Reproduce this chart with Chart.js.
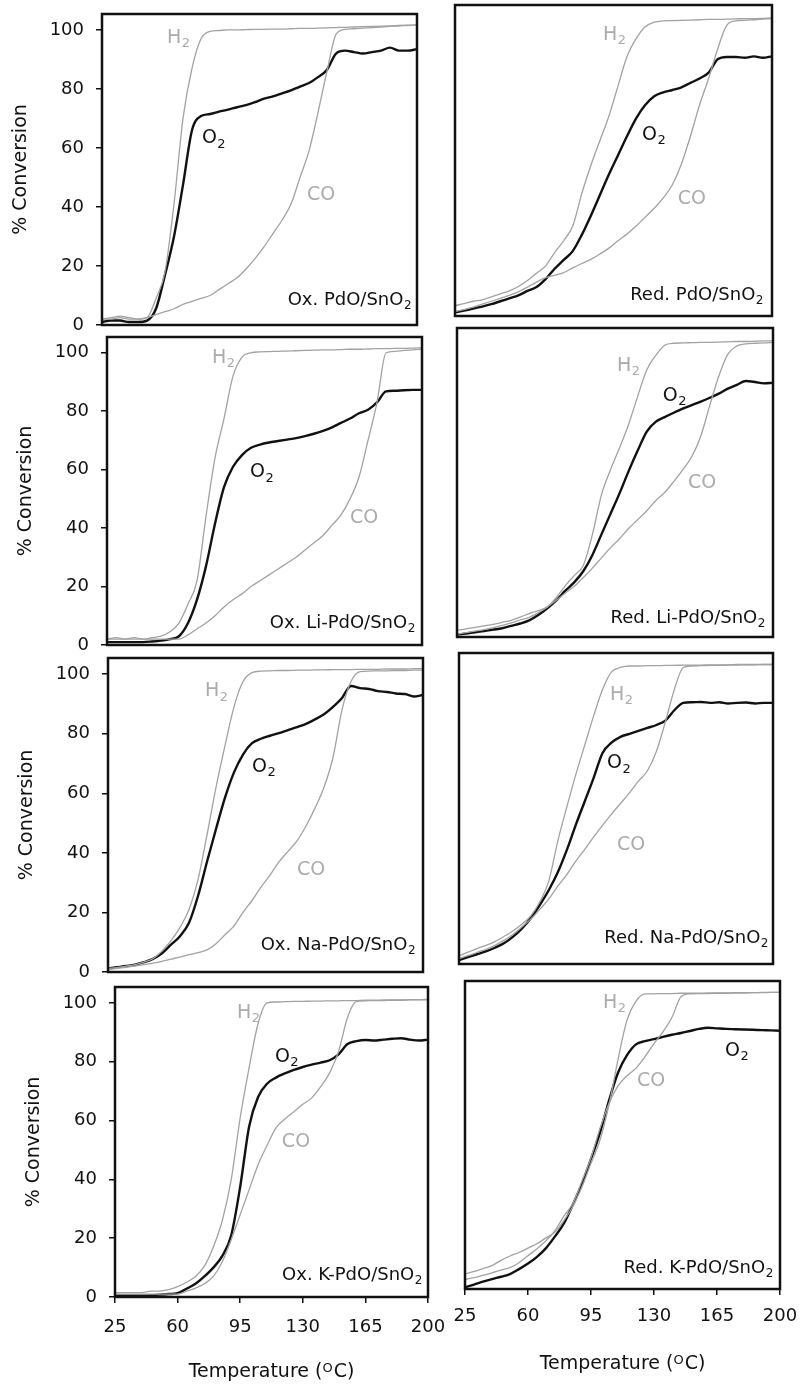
<!DOCTYPE html>
<html><head><meta charset="utf-8">
<script src="https://cdn.jsdelivr.net/npm/chart.js@4.4.1/dist/chart.umd.min.js"></script>
<style>
html,body{margin:0;padding:0;background:#fff;}
#page{position:relative;width:803px;height:1387px;overflow:hidden;background:#fff;}
.pc{position:absolute;}
</style></head><body><div id="page"></div>
<script>
// ---------- data ----------
const temps = [25,30,35,40,45,50,55,60,65,70,75,80,85,90,95,100,105,110,115,120,125,130,135,140,145,150,155,160,165,170,175,180,185,190,195,200];
const tempTicks = [25,60,95,130,165,200];
const convTicks = [0,20,40,60,80,100];

// Ox. PdO/SnO2
const oxPdH2 = [2,2.5,3,2.5,2,2.5,9,18,41,70,87,97,99.5,99.8,100,100,100.1,100.2,100.2,100.3,100.3,100.4,100.5,100.5,100.6,100.7,100.8,100.9,101,101.1,101.2,101.3,101.4,101.5,101.6,101.7];
const oxPdO2 = [1,1.5,1.5,1,1,1.5,5.5,17,30,47.5,66,70.8,71.5,72.3,73,73.8,74.5,75.5,76.7,77.5,78.5,79.5,80.8,82,84,86.5,92,93,92.5,92,92.5,93,94,93,93,93.5];
const oxPdCO = [2,2,2.5,2,2,2.5,3.5,4.5,5.5,7,8,9,10,12,14,16,19,22.5,26.5,31,35.5,41,50,59,72,86,98.5,100.2,100.4,100.6,100.8,101,101.2,101.4,101.5,101.7];
// Red. PdO/SnO2
const redPdH2 = [3.5,4.2,5,5.5,6.5,7.5,8.5,10,12,14.5,17,21.5,25.5,30.5,41.5,51,59.5,67.8,78,88,94,98,99.6,100,100.1,100.2,100.3,100.4,100.5,100.5,100.6,100.7,100.8,100.8,100.9,101];
const redPdO2 = [1.2,1.8,2.5,3.2,4,5,6,7,8.5,9.8,12.5,16,19,22,27.5,34,41,48,54.5,61,67,71.5,74.5,75.8,76.6,77.5,79,80.5,82.5,87,87.8,87.8,87.5,88,87.5,88];
const redPdCO = [1.5,2.2,3,4,5,6,7,8.2,9.8,11.5,13,13.8,14.7,16.3,17.8,19.2,21,23,25.5,27.8,30.5,33.5,36.5,40,44.5,51.5,61,71.5,80.5,90.5,98.5,100,100.2,100.4,100.6,100.8];
// Ox. Li-PdO/SnO2
const oxLiH2 = [2,2.5,2,2.5,2,2.5,3,4.5,7.5,14,22,44,64,77.5,92,98.5,100,100.3,100.4,100.5,100.6,100.7,100.8,100.9,101,101,101.1,101.2,101.2,101.3,101.4,101.4,101.5,101.5,101.6,101.7];
const oxLiO2 = [1,1,1,1,1,1.2,1.5,2,3,7.5,15.5,27,41.5,54,61,65,67.5,68.6,69.3,69.8,70.3,70.8,71.5,72.3,73.3,74.5,76,77.5,79.3,80.5,83,86.8,87,87.2,87.3,87.3];
const oxLiCO = [2,2,2,2,2,2,2,2,2,3.5,5.5,7.5,10,13,15.5,17.5,20,22,24,26,28,30,32.5,35,37.5,41,44.5,50,57.5,70,83,100,100.5,100.8,101,101.3];
// Red. Li-PdO/SnO2
const redLiH2 = [2.2,2.8,3.3,3.8,4.3,5,5.7,6.8,8,9,10.3,13.5,17.5,21,24.5,35,48.5,57,64.5,72.5,82,91,96,99.5,100.2,100.3,100.4,100.5,100.5,100.6,100.7,100.8,100.8,100.9,101,101];
const redLiO2 = [0.8,1.2,1.6,2,2.5,3,3.8,4.6,5.7,7.5,9.8,12.5,15.8,18.7,22.5,28,35,42,49,56.5,63.5,70,73.4,75,76.5,77.9,79.1,80.3,81.6,83,84.7,86,87.3,87,86.5,86.7];
const redLiCO = [1,1.5,2,2.5,3.2,4,4.8,5.8,6.7,8.3,10.2,12.5,15,17.3,20.3,23.5,27,30.5,33.5,37,40,43,46.5,49.3,53,57,61.5,68.5,79,89,96.5,99.3,100,100.2,100.3,100.5];
// Ox. Na-PdO/SnO2
const oxNaH2 = [1.2,1.5,2,2.5,3.3,4.5,7,10.5,15,21,31,46,62,76,89,97.5,100.5,101,101.1,101.2,101.2,101.3,101.3,101.4,101.4,101.5,101.5,101.5,101.6,101.6,101.6,101.7,101.7,101.7,101.8,101.8];
const oxNaO2 = [1.2,1.6,2,2.5,3.3,4.4,6.3,9.2,12,16.5,25.5,37,48,58.5,67,73,76.8,78.3,79.3,80.2,81.2,82.2,83.3,84.8,86.5,89,92,96,95.3,95,94.3,94,93.5,93.3,92.5,93];
const oxNaCO = [0.8,1.2,1.6,2,2.5,3,3.6,4.3,5,5.8,6.5,7.4,9.5,12.5,15.5,20,24,28.5,32.5,37,40.5,44,49,55,62,72,88,97.5,100.8,101,101.1,101.1,101.2,101.2,101.3,101.3];
// Red. Na-PdO/SnO2
const redNaH2 = [2.8,4,5.2,6.3,7.6,9.3,11.2,13.5,16.3,21,28,41.5,53,64,74,84,93,99,100.5,101,101,101.1,101.1,101.2,101.2,101.3,101.3,101.3,101.4,101.4,101.4,101.5,101.5,101.5,101.5,101.5];
const redNaO2 = [1.3,2.3,3.3,4.3,5.5,7,9.2,12,15.5,20,25,31,38.5,47,55,63,71.5,75,77,78,79,80,81,82.5,86,88.5,88.7,88.8,88.5,88.7,88.3,88.5,88.6,88.3,88.5,88.5];
const redNaCO = [1.8,2.8,3.9,5,6.3,8,10,12.5,15.2,18.5,22,26.3,30.2,34.8,38.8,43,47,50.8,54.4,58,62,65.5,72,82,93,100.5,101,101.1,101.2,101.2,101.3,101.3,101.4,101.4,101.5,101.5];
// Ox. K-PdO/SnO2
const oxKH2 = [1.5,1.5,1.5,1.5,2,2,2.5,3.5,5,7,10.5,17,26,40,61,78,93,100,100.3,100.4,100.5,100.5,100.6,100.6,100.7,100.7,100.8,100.8,100.9,100.9,101,101,101,101.1,101.1,101.2];
const oxKO2 = [0.5,0.5,0.5,0.5,0.6,0.8,1,1.3,2.8,4.5,7,10,14,21,37.5,58,68,72.5,74.6,76,77.2,78.2,79,79.7,80.5,82.5,86,87,87.4,87.2,87.5,87.8,88,87.5,87.2,87.5];
const oxKCO = [1,1,1,1,1,1,1,1,2,3,4.5,7,12,19.5,28,36.5,45,51.5,57.5,60.5,63,65.5,67.7,71.5,76.2,83.5,95,100.5,100.7,100.8,100.8,100.9,100.9,101,101,101];
// Red. K-PdO/SnO2
const redKH2 = [5.2,6,7,8,9.8,11.3,12.5,14,15.5,17.5,19.5,23.5,28.3,35,43,51,63,78.5,92,98.5,101,101,101.1,101.1,101.2,101.2,101.2,101.3,101.3,101.3,101.4,101.4,101.4,101.5,101.5,101.5];
const redKO2 = [0.6,1.5,2.5,3.4,4.2,5.1,6.8,8.7,11,14,18,22.5,29,36,44.5,53.5,64.5,74,80,83.7,84.8,85.5,86.3,87,87.6,88.3,89,89.4,89.2,89,88.9,88.8,88.7,88.6,88.5,88.4];
const redKCO = [3.2,3.9,4.7,5.5,6.5,7.3,9,11.4,13.8,16.5,20,25,29.4,37,45,55,63.5,69.5,73,75.6,79.5,84,88,93,100,101,101.1,101.1,101.2,101.2,101.3,101.3,101.4,101.4,101.5,101.5];

// ---------- layout (positions only) ----------
const FONT = '"DejaVu Sans", Verdana, sans-serif';
const Y_MAX = 105.4;
const panels = [
  {sample:'Ox. PdO/SnO', h2:oxPdH2, o2:oxPdO2, co:oxPdCO, box:[102,14,417,325], col:0, bottom:false,
   lab:{h2:[61.1,95.6], o2:[80.5,61.7], co:[138.9,42.4], s:[196.7,6.8]}},
  {sample:'Red. PdO/SnO', h2:redPdH2, o2:redPdO2, co:redPdCO, box:[455,5,772,316], col:1, bottom:false,
   lab:{h2:[106.7,93.6], o2:[128.3,59.7], co:[148,38], s:[195,5.4]}},
  {sample:'Ox. Li-PdO/SnO', h2:oxLiH2, o2:oxLiO2, co:oxLiCO, box:[107,337,422,645], col:0, bottom:false,
   lab:{h2:[83.3,96.6], o2:[104.4,57.5], co:[160,41.8], s:[196,5.8]}},
  {sample:'Red. Li-PdO/SnO', h2:redLiH2, o2:redLiO2, co:redLiCO, box:[457,328,773,637], col:1, bottom:false,
   lab:{h2:[113.6,90.8], o2:[139,80.6], co:[152.9,50.7], s:[195.5,4.8]}},
  {sample:'Ox. Na-PdO/SnO', h2:oxNaH2, o2:oxNaO2, co:oxNaCO, box:[108,658,423,972], col:0, bottom:false,
   lab:{h2:[78.9,92.6], o2:[105,67.3], co:[130,32.7], s:[195.6,7.4]}},
  {sample:'Red. Na-PdO/SnO', h2:redNaH2, o2:redNaO2, co:redNaCO, box:[459,653,773,964], col:1, bottom:false,
   lab:{h2:[109.2,89.5], o2:[107.5,66.4], co:[113,38.6], s:[197.2,7.1]}},
  {sample:'Ox. K-PdO/SnO', h2:oxKH2, o2:oxKO2, co:oxKCO, box:[115,987,428,1297], col:0, bottom:true, tickPad:14,
   lab:{h2:[93.2,94.9], o2:[114.4,80], co:[118.3,51], s:[196.6,5.8]}},
  {sample:'Red. K-PdO/SnO', h2:redKH2, o2:redKO2, co:redKCO, box:[465,981,780,1289], col:1, bottom:true, tickPad:11,
   lab:{h2:[101.7,96.2], o2:[169.4,79.9], co:[120.6,69.6], s:[196,5.5]}}
];

function subText(ctx, x, y, main, sub, size, color, align) {
  ctx.save();
  ctx.fillStyle = color;
  ctx.textBaseline = 'alphabetic';
  ctx.textAlign = 'left';
  const fMain = size + 'px ' + FONT;
  const fSub = Math.round(size * 0.66) + 'px ' + FONT;
  ctx.font = fMain; const w1 = ctx.measureText(main).width;
  ctx.font = fSub; const w2 = ctx.measureText(sub).width;
  const x0 = align === 'right' ? x - w1 - w2 : x;
  ctx.font = fMain; ctx.fillText(main, x0, y);
  ctx.font = fSub; ctx.fillText(sub, x0 + w1 + 0.5, y + size * 0.24);
  ctx.restore();
}

function makePlugin(p) {
  return {
    id: 'panelDeco',
    afterDatasetsDraw(chart) {
      const {ctx, chartArea: a} = chart;
      ctx.save();
      ctx.strokeStyle = '#111';
      ctx.lineWidth = 2.5;
      ctx.strokeRect(a.left, a.top, a.right - a.left, a.bottom - a.top);
      ctx.restore();
    },
    afterDraw(chart) {
      const {ctx, chartArea: a} = chart;
      const xs = chart.scales.x, ys = chart.scales.y;
      const px = t => xs.getPixelForValue(t), py = v => ys.getPixelForValue(v);
      const L = p.lab;
      subText(ctx, px(L.h2[0]), py(L.h2[1]), 'H', '2', 19, '#ababab', 'left');
      subText(ctx, px(L.co[0]), py(L.co[1]), 'CO', '', 19, '#ababab', 'left');
      subText(ctx, px(L.o2[0]), py(L.o2[1]), 'O', '2', 19, '#111', 'left');
      subText(ctx, px(L.s[0]), py(L.s[1]), p.sample, '2', 18, '#111', 'right');
      ctx.save();
      ctx.fillStyle = '#111';
      if (p.col === 0) {
        ctx.translate(a.left - 81, (a.top + a.bottom) / 2);
        ctx.rotate(-Math.PI / 2);
        ctx.textAlign = 'center';
        ctx.textBaseline = 'middle';
        ctx.font = '19px ' + FONT;
        ctx.fillText('% Conversion', 0, 0);
        ctx.setTransform(1, 0, 0, 1, 0, 0);
      }
      if (p.bottom) {
        const s1 = 'Temperature (', s2 = 'O', s3 = 'C)';
        ctx.font = '19px ' + FONT; const w1 = ctx.measureText(s1).width, w3 = ctx.measureText(s3).width;
        ctx.font = '13px ' + FONT; const w2 = ctx.measureText(s2).width;
        const cx = (a.left + a.right) / 2, y = a.bottom + 80;
        let x = cx - (w1 + w2 + w3 + 1) / 2;
        ctx.textAlign = 'left'; ctx.textBaseline = 'alphabetic';
        ctx.font = '19px ' + FONT; ctx.fillText(s1, x, y);
        ctx.font = '13px ' + FONT; ctx.fillText(s2, x + w1, y - 5);
        ctx.font = '19px ' + FONT; ctx.fillText(s3, x + w1 + w2 + 1, y);
      }
      ctx.restore();
    }
  };
}

const page = document.getElementById('page');
const PAD_T = 30;
panels.forEach(p => {
  const [bl, bt, br, bb] = p.box;
  const padL = p.col === 0 ? bl : 34;
  const padR = p.bottom ? 42 : 8;
  const padB = p.bottom ? 95 : 30;
  const left = bl - padL, top = bt - PAD_T;
  const w = (br - bl) + padL + padR, h = (bb - bt) + PAD_T + padB;
  const div = document.createElement('div');
  div.className = 'pc';
  div.style.left = left + 'px'; div.style.top = top + 'px';
  div.style.width = w + 'px'; div.style.height = h + 'px';
  const cv = document.createElement('canvas');
  cv.width = w; cv.height = h;
  cv.style.width = w + 'px'; cv.style.height = h + 'px';
  div.appendChild(cv); page.appendChild(div);
  const mk = (arr) => temps.map((t, i) => ({x: t, y: arr[i]}));
  new Chart(cv.getContext('2d'), {
    type: 'line',
    data: {
      datasets: [
        {label: 'CO', data: mk(p.co), borderColor: '#a2a2a2', borderWidth: 1.3},
        {label: 'H2', data: mk(p.h2), borderColor: '#a2a2a2', borderWidth: 1.3},
        {label: 'O2', data: mk(p.o2), borderColor: '#111', borderWidth: 2.4}
      ]
    },
    options: {
      responsive: false, animation: false, devicePixelRatio: 1,
      layout: {padding: {top: PAD_T, right: padR, left: 0, bottom: 0}},
      elements: {point: {radius: 0}, line: {cubicInterpolationMode: 'monotone', fill: false}},
      plugins: {legend: {display: false}, tooltip: {enabled: false}},
      scales: {
        x: {
          type: 'linear', min: 25, max: 200,
          afterBuildTicks: s => { s.ticks = tempTicks.map(v => ({value: v})); },
          afterFit: s => { s.height = padB; },
          ticks: {display: p.bottom, color: '#111', font: {family: FONT, size: 18}, padding: p.tickPad || 8, maxRotation: 0, autoSkip: false},
          grid: {display: true, drawOnChartArea: false, drawTicks: p.bottom, tickLength: 6, color: '#111', lineWidth: 1.5},
          border: {display: false}
        },
        y: {
          type: 'linear', min: 0, max: Y_MAX,
          afterBuildTicks: s => { s.ticks = convTicks.map(v => ({value: v})); },
          afterFit: s => { s.width = padL; },
          ticks: {display: p.col === 0, color: '#111', font: {family: FONT, size: 18}, padding: 12},
          grid: {display: true, drawOnChartArea: false, drawTicks: p.col === 0, tickLength: 6, color: '#111', lineWidth: 1.5},
          border: {display: false}
        }
      }
    },
    plugins: [makePlugin(p)]
  });
});
</script></body></html>
